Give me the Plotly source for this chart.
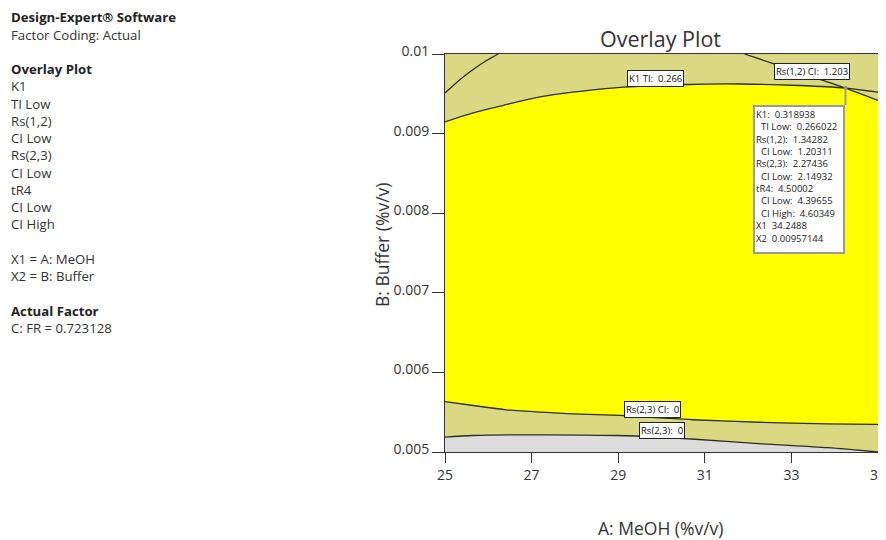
import plotly.graph_objects as go

# ---------------- data ----------------
x_ticks = [25, 27, 29, 31, 33, 35]
x_tick_labels = ["25", "27", "29", "31", "33", "35"]
y_ticks = [0.005, 0.006, 0.007, 0.008, 0.009, 0.01]
y_tick_labels = ["0.005", "0.006", "0.007", "0.008", "0.009", "0.01"]
x_range = [25, 35]
y_range = [0.005, 0.01]

# unlabeled contour in top-left corner
corner_x = [25.0, 25.35, 25.65, 25.96, 26.23]
corner_y = [0.00951, 0.00968, 0.009805, 0.009918, 0.0100]

# K1 TI: 0.266
k1_ti_x = [25.0, 25.65, 26.43, 27.19, 27.95, 29.11, 30.58, 31.81, 33.19, 34.2488, 35.0]
k1_ti_y = [0.009148, 0.009261, 0.009366, 0.00946, 0.00952, 0.009583, 0.009617,
           0.009623, 0.009604, 0.00957144, 0.00952]

# Rs(1,2) CI: 1.203
rs12_ci_x = [31.92, 32.8, 33.6, 34.2488, 35.0]
rs12_ci_y = [0.0100, 0.009838, 0.009692, 0.00957144, 0.009416]

# Rs(2,3) CI: 0
rs23_ci_x = [25.0, 25.65, 26.42, 27.19, 27.95, 29.04, 29.96, 30.72, 32.27, 33.81, 35.0]
rs23_ci_y = [0.005634, 0.005584, 0.00553, 0.0055, 0.00548, 0.005459, 0.00543,
             0.005405, 0.005374, 0.005354, 0.005346]

# Rs(2,3): 0
rs23_x = [25.0, 25.65, 26.96, 28.97, 29.96, 30.77, 32.31, 33.84, 35.0]
rs23_y = [0.005186, 0.005207, 0.005216, 0.005207, 0.005186, 0.00516, 0.005103,
          0.005054, 0.0050]

contour_names = ["K1 TI:", "Rs(1,2) CI:", "Rs(2,3) CI:", "Rs(2,3):"]
contour_values = ["0.266", "1.203", "0", "0"]

# flag
flag_x = 34.2488
flag_y = 0.00957144
flag_names = ["K1:", "TI Low:", "Rs(1,2):", "CI Low:", "Rs(2,3):", "CI Low:",
              "tR4:", "CI Low:", "CI High:", "X1", "X2"]
flag_values = ["0.318938", "0.266022", "1.34282", "1.20311", "2.27436", "2.14932",
               "4.50002", "4.39655", "4.60349", "34.2488", "0.00957144"]
flag_sub = [False, True, False, True, False, True, False, True, True, False, False]

# legend panel text
panel_lines = [
    ("Design-Expert® Software", True), ("Factor Coding: Actual", False), ("", False),
    ("Overlay Plot", True), ("K1", False), ("TI Low", False), ("Rs(1,2)", False),
    ("CI Low", False), ("Rs(2,3)", False), ("CI Low", False), ("tR4", False),
    ("CI Low", False), ("CI High", False), ("", False),
    ("X1 = A: MeOH", False), ("X2 = B: Buffer", False), ("", False),
    ("Actual Factor", True), ("C: FR = 0.723128", False),
]

# ---------------- styling / layout ----------------
OFF = 8                      # default page body margin of the browser
W, H = 886 - OFF, 540 - OFF
ML, MR, MT, MB = 437, 8, 46, 88
PW, PH = W - ML - MR, H - MT - MB
FONT = "Open Sans"
YELLOW = "#ffff00"
KHAKI = "#dbd884"
GRAY = "#dcdcdc"
LINE = "#2e2e22"
TXT = "#333333"


def pxx(px):
    """screen pixel x -> paper x"""
    return (px - OFF - ML) / PW


def pxy(py):
    """screen pixel y -> paper y"""
    return (H - MB - (py - OFF)) / PH


fig = go.Figure()

# yellow feasible region: under K1 line, above Rs(2,3) CI line
fig.add_trace(go.Scatter(
    x=k1_ti_x + rs23_ci_x[::-1], y=k1_ti_y + rs23_ci_y[::-1],
    fill="toself", fillcolor=YELLOW, mode="none", hoverinfo="skip", showlegend=False))
# khaki region above Rs(1,2) CI line (top right)
fig.add_trace(go.Scatter(
    x=rs12_ci_x + [x_range[1]], y=rs12_ci_y + [y_range[1]],
    fill="toself", fillcolor=KHAKI, mode="none", hoverinfo="skip", showlegend=False))
# gray region below Rs(2,3) line
fig.add_trace(go.Scatter(
    x=rs23_x + [x_range[1], x_range[0]], y=rs23_y + [y_range[0], y_range[0]],
    fill="toself", fillcolor=GRAY, mode="none", hoverinfo="skip", showlegend=False))

for xs, ys in [(corner_x, corner_y), (k1_ti_x, k1_ti_y), (rs12_ci_x, rs12_ci_y),
               (rs23_ci_x, rs23_ci_y), (rs23_x, rs23_y)]:
    fig.add_trace(go.Scatter(x=xs, y=ys, mode="lines",
                             line=dict(color=LINE, width=1.3, shape="spline", smoothing=0.8),
                             hoverinfo="skip", showlegend=False))

# flag point
fig.add_trace(go.Scatter(x=[flag_x], y=[flag_y], mode="markers",
                         marker=dict(color="#8a8a8a", size=4), hoverinfo="skip",
                         showlegend=False))

annotations = []

# contour labels (positions in data units)
label_pos = [(29.87, 0.009686), (33.47, 0.009786), (29.79, 0.005528), (30.01, 0.005264)]
for name, val, (lx, ly) in zip(contour_names, contour_values, label_pos):
    annotations.append(dict(
        x=lx, y=ly, xref="x", yref="y", text=f"{name}\u00a0\u00a0{val}", showarrow=False,
        font=dict(family=FONT, size=9.5, color="#111"), bgcolor="white",
        bordercolor="#222", borderwidth=1, borderpad=1, xanchor="center", yanchor="middle"))

# flag box
flag_text = "<br>".join(
    ("\u00a0\u00a0" if sub else "") + f"{n}\u00a0\u00a0{v}"
    for n, v, sub in zip(flag_names, flag_values, flag_sub))
annotations.append(dict(
    x=flag_x, y=flag_y, xref="x", yref="y", ax=0, ay=17, axref="pixel", ayref="pixel",
    showarrow=True, arrowhead=0, arrowwidth=2, arrowcolor="#9a9a9a", standoff=0,
    text=flag_text, align="left", valign="top", width=86, height=143,
    font=dict(family=FONT, size=9.5, color="#222"), bgcolor="white",
    bordercolor="#9a9a9a", borderwidth=2, borderpad=1, xanchor="right", yanchor="top"))

# title and axis titles
annotations.append(dict(x=pxx(660), y=pxy(38), xref="paper", yref="paper",
                        text="Overlay Plot", showarrow=False, borderpad=0,
                        font=dict(family=FONT, size=21.5, color=TXT),
                        xanchor="center", yanchor="middle"))
annotations.append(dict(x=pxx(661), y=pxy(528), xref="paper", yref="paper",
                        text="A: MeOH (%v/v)", showarrow=False, borderpad=0,
                        font=dict(family=FONT, size=17.5, color=TXT),
                        xanchor="center", yanchor="middle"))
annotations.append(dict(x=pxx(382), y=pxy(245), xref="paper", yref="paper",
                        text="B: Buffer (%v/v)", showarrow=False, textangle=-90,
                        borderpad=0, font=dict(family=FONT, size=17.5, color=TXT),
                        xanchor="center", yanchor="middle"))

# left info panel
for i, (txt, bold) in enumerate(panel_lines):
    if not txt:
        continue
    annotations.append(dict(
        x=pxx(10), y=pxy(17.3 + i * 17.25), xref="paper", yref="paper",
        text=f"<b>{txt}</b>" if bold else txt, showarrow=False, borderpad=0,
        font=dict(family=FONT, size=13.2, color="#222" if bold else TXT),
        xanchor="left", yanchor="middle"))

fig.update_layout(
    width=W, height=H, margin=dict(l=ML, r=MR, t=MT, b=MB, autoexpand=False),
    paper_bgcolor="white", plot_bgcolor=KHAKI,
    annotations=annotations, showlegend=False,
    font=dict(family=FONT, color=TXT),
)
fig.update_xaxes(range=x_range, tickvals=x_ticks, ticktext=x_tick_labels,
                 showgrid=False, zeroline=False, showline=True, mirror=True,
                 linecolor="#333", linewidth=1, ticks="outside", ticklen=10,
                 tickcolor="#333", tickfont=dict(family=FONT, size=14, color=TXT),
                 ticklabelstandoff=0, automargin=False, ticklabeloverflow="allow")
fig.update_yaxes(range=y_range, tickvals=y_ticks, ticktext=y_tick_labels,
                 showgrid=False, zeroline=False, showline=True, mirror=True,
                 linecolor="#333", linewidth=1, ticks="outside", ticklen=12,
                 tickcolor="#333", tickfont=dict(family=FONT, size=14, color=TXT),
                 ticklabelshift=-3, ticklabelstandoff=0, automargin=False)

fig.write_html("out.html")
